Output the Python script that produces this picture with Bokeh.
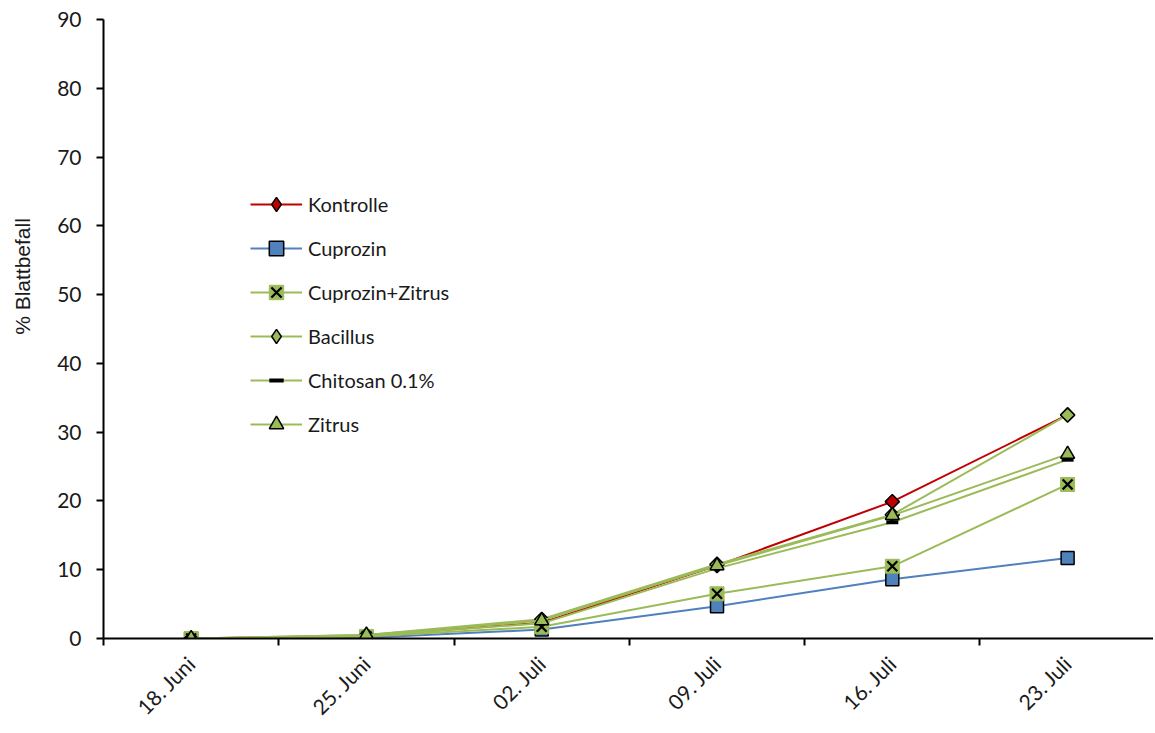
import math
from bokeh.plotting import figure
from bokeh.models import Range1d, FixedTicker, Legend, LegendItem
from bokeh.embed import file_html
from bokeh.resources import INLINE

dates = ["18. Juni", "25. Juni", "02. Juli", "09. Juli", "16. Juli", "23. Juli"]
xs = [0, 1, 2, 3, 4, 5]

kontrolle = [0, 0.4, 2.3, 10.6, 19.9, 32.5]
cuprozin = [0, 0.1, 1.3, 4.7, 8.6, 11.7]
cuprozin_zitrus = [0, 0.3, 1.7, 6.5, 10.5, 22.4]
bacillus = [0, 0.5, 2.8, 10.8, 18.0, 32.5]
chitosan = [0, 0.4, 2.2, 10.2, 16.9, 26.0]
zitrus = [0, 0.5, 2.6, 10.6, 17.9, 26.8]

RED = "#C00000"
BLUE = "#4F81BD"
GREEN = "#9BBB59"
FONT = "Lato"

p = figure(width=1153, height=731, output_backend="svg", toolbar_location=None,
           x_range=Range1d(-0.5, 5.49), y_range=Range1d(0, 90),
           min_border_left=103, min_border_right=0, min_border_top=19,
           min_border_bottom=93)
p.outline_line_color = None
p.xgrid.grid_line_color = None
p.ygrid.grid_line_color = None
p.background_fill_color = "white"

# axes
p.xaxis.ticker = FixedTicker(ticks=xs, minor_ticks=[-0.5, 0.5, 1.5, 2.5, 3.5, 4.5, 5.5])
p.xaxis.major_label_overrides = {i: d for i, d in zip(xs, dates)}
p.xaxis.major_tick_out = 0
p.xaxis.major_tick_in = 0
p.xaxis.minor_tick_out = 7
p.xaxis.minor_tick_in = 0
p.xaxis.minor_tick_line_color = "black"
p.xaxis.minor_tick_line_width = 2
p.xaxis.major_label_orientation = math.pi / 4
p.xaxis.major_label_standoff = 14

p.yaxis.ticker = FixedTicker(ticks=list(range(0, 91, 10)))
p.yaxis.major_tick_out = 7
p.yaxis.major_tick_in = 0
p.yaxis.minor_tick_line_color = None
p.yaxis.major_label_standoff = 15

for ax in (p.xaxis, p.yaxis):
    ax.axis_line_color = "black"
    ax.axis_line_width = 2
    ax.major_tick_line_color = "black"
    ax.major_tick_line_width = 2
    ax.major_label_text_font = FONT
    ax.major_label_text_font_size = "21px"
    ax.major_label_text_color = "#1a1a1a"

# y axis title (leading no-break spaces move it up, as in the reference)
p.yaxis.axis_label = "\u00a0" * 18 + "% Blattbefall"
p.yaxis.axis_label_text_font = "Liberation Sans"
p.yaxis.axis_label_text_font_size = "21px"
p.yaxis.axis_label_text_font_style = "normal"
p.yaxis.axis_label_text_color = "#1a1a1a"
p.yaxis.axis_label_standoff = 20

items = []

# Kontrolle
l1 = p.line(xs, kontrolle, line_color=RED, line_width=2)
k_leg = p.scatter(xs, kontrolle, marker="diamond", size=8, fill_color=RED,
                  line_color="black", line_width=1.5)
m1 = p.scatter(xs, kontrolle, marker="square", size=10, angle=math.pi / 4,
               fill_color=RED, line_color="black", line_width=1.5)
items.append(LegendItem(label="Kontrolle", renderers=[l1, k_leg]))

# Cuprozin
l2 = p.line(xs, cuprozin, line_color=BLUE, line_width=2)
m2 = p.scatter(xs, cuprozin, marker="square", size=13, fill_color=BLUE,
               line_color="black", line_width=1.5)
items.append(LegendItem(label="Cuprozin", renderers=[l2, m2]))

# Cuprozin+Zitrus
l3 = p.line(xs, cuprozin_zitrus, line_color=GREEN, line_width=2)
m3a = p.scatter(xs, cuprozin_zitrus, marker="square", size=14, fill_color=GREEN,
                line_color=GREEN, line_width=1)
m3b = p.scatter(xs, cuprozin_zitrus, marker="x", size=14, line_color="black",
                line_width=2.2)
items.append(LegendItem(label="Cuprozin+Zitrus", renderers=[l3, m3a, m3b]))

# Bacillus
l4 = p.line(xs, bacillus, line_color=GREEN, line_width=2)
b_leg = p.scatter(xs, bacillus, marker="diamond", size=8, fill_color=GREEN,
                  line_color="black", line_width=1.5)
m4 = p.scatter(xs, bacillus, marker="square", size=10, angle=math.pi / 4,
               fill_color=GREEN, line_color="black", line_width=1.5)
items.append(LegendItem(label="Bacillus", renderers=[l4, b_leg]))

# Chitosan 0.1%
l5 = p.line(xs, chitosan, line_color=GREEN, line_width=2)
m5 = p.scatter(xs, chitosan, marker="dash", size=12, line_color="black",
               line_width=4)
items.append(LegendItem(label="Chitosan 0.1%", renderers=[l5, m5]))

# Zitrus
l6 = p.line(xs, zitrus, line_color=GREEN, line_width=2)
m6 = p.scatter(xs, zitrus, marker="triangle", size=14, fill_color=GREEN,
               line_color="black", line_width=1.5)
items.append(LegendItem(label="Zitrus", renderers=[l6, m6]))

legend = Legend(items=items, location=(147, 196))
legend.border_line_color = None
legend.background_fill_alpha = 0
legend.padding = 0
legend.margin = 0
legend.glyph_width = 52
legend.glyph_height = 36
legend.label_height = 36
legend.spacing = 8
legend.label_standoff = 6
legend.label_text_font = FONT
legend.label_text_font_size = "20px"
legend.label_text_color = "#1a1a1a"
p.add_layout(legend, "center")

open("out.html", "w").write(file_html(p, INLINE))
